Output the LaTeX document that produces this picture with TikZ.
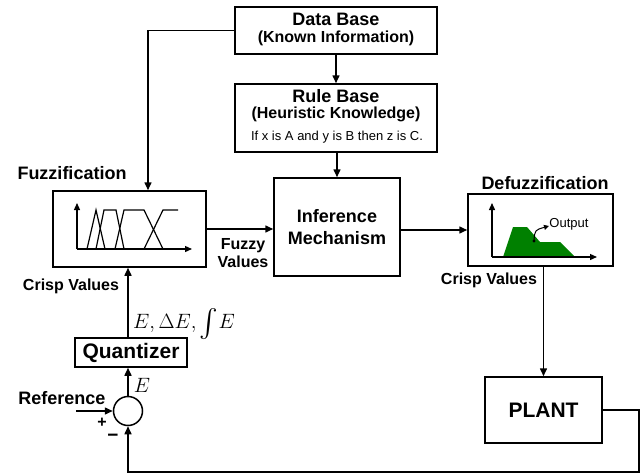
\documentclass[tikz,border=0pt]{standalone}
\usepackage{exscale}
\usepackage{fontspec}
\setmainfont{Liberation Sans}
\usetikzlibrary{arrows.meta,calc}

\definecolor{outgreen}{RGB}{0,128,0}

% font size with a given line pitch
\newcommand{\fsz}[2]{\fontsize{#1}{#2}\selectfont}
% a somewhat enlarged integral sign
\newcommand{\bigint}{\mathop{\raisebox{-2.5pt}{\scalebox{1.35}{$\textstyle\int$}}}\nolimits}

\tikzset{
  blk/.style={draw, line width=1.5pt, rectangle, inner sep=0pt, align=center},
  arr/.style={line width=1.5pt, -{Triangle[length=8pt,width=7pt]}},
  lbl/.style={inner sep=0pt, font=\bfseries\fsz{16}{18}},
  ttl/.style={inner sep=0pt, font=\bfseries\fsz{18}{20}},
  ax/.style={line width=1.3pt, -{Triangle[length=7pt,width=6pt]}},
  mf/.style={line width=1.2pt, line join=miter}
}

\begin{document}
\begin{tikzpicture}[x=1pt,y=-1pt]
\useasboundingbox (0,0) rectangle (641,474);

% ---- blocks ----
\node[blk, minimum width=202pt, minimum height=47pt] (db) at (336,30.5) {};
\node[blk, minimum width=202pt, minimum height=68pt] (rb) at (336,118) {};
\node[blk, minimum width=126pt, minimum height=98pt, font=\bfseries\fsz{18}{22}] (inf) at (337,227)
  {Inference\\Mechanism};
\node[blk, minimum width=153pt, minimum height=76pt] (fz) at (129.5,229) {};
\node[blk, minimum width=145pt, minimum height=72pt] (dfz) at (540.5,230) {};
\node[blk, minimum width=112pt, minimum height=29pt, font=\bfseries\fsz{21}{24}] (qz) at (131,352.5) {Quantizer};
\node[draw, line width=1.5pt, circle, minimum size=29pt, inner sep=0pt] (sum) at (128,411) {};
\node[blk, minimum width=117pt, minimum height=66pt, font=\bfseries\fsz{21}{24}] (plant) at (543.5,410) {PLANT};

% ---- block texts ----
\node[ttl] (tdb1) at (336,19.5) {Data Base};
\node[lbl] (tdb2) at (336,38.5) {(Known Information)};
\node[ttl] (trb1) at (336,96.5) {Rule Base};
\node[lbl] (trb2) at (336,114.5) {(Heuristic Knowledge)};
\node[inner sep=0pt, font=\fsz{13}{15}] (trb3) at (337,137) {If x is A and y is B then z is C.};

\coordinate (ref) at (76,411);
\coordinate (fb) at (639,472);

% ---- labels ----
\node[ttl] (lfz) at (72,173) {Fuzzification};
\node[ttl] (ldfz) at (545,183) {Defuzzification};
\node[lbl] (lcv1) at (71,286) {Crisp Values};
\node[lbl] (lcv2) at (489,280) {Crisp Values};
\node[lbl, align=center] (lfv) at (243,253.5) {Fuzzy\\Values};
\node[inner sep=0pt, anchor=west, font=\fsz{20}{24}] (lmath) at (133,324) {$E, \Delta E, \bigint\! E$};
\node[inner sep=0pt, font=\fsz{20}{24}] (le) at (142,385) {$E$};
\node[ttl] (lref) at (62,398) {Reference};
\node[lbl] (lplus) at (102,423) {+};
\node[inner sep=0pt, font=\bfseries\fsz{19}{20}] (lminus) at (113,438) {−};

% ---- connectors ----
\draw[arr] (db) -- (rb);
\draw[arr] (rb.south -| inf.north) -- (inf.north);
\draw[arr] (db.west) -| ($(fz.north)+(18.5,0)$);
\draw[arr] (fz.east) -- (fz.east -| inf.west);
\draw[arr] (dfz.west -| inf.east) -- (dfz.west);
\draw[arr] (plant.north |- dfz.south) -- (plant.north);
\draw[arr] (sum.north |- qz.north) -- (sum.north |- fz.south);
\draw[arr] (sum.north) -- (sum.north |- qz.south);
\draw[arr] (ref) -- (sum.west);
\draw[arr] (plant.east) -| (fb) -| (sum.south);

% ---- membership functions inside the fuzzifier ----
\draw[ax] (77,249) -- (77,203);
\draw[ax] (77,249) -- (192,249);
\draw[mf] (87,249) -- (96,210) -- (105,249);
\draw[mf] (96,249) -- (104,210) -- (116,210) -- (124,249);
\draw[mf] (115,249) -- (124,210) -- (144,210) -- (163,249);
\draw[mf] (144,249) -- (163,210) -- (178,210);

% ---- output set inside the defuzzifier ----
\fill[outgreen] (503,257) -- (513,227) -- (527,227) -- (540,242) -- (560,242) -- (575,257) -- cycle;
\draw[ax] (492,257) -- (492,203);
\draw[ax] (492,257) -- (597,257);
\fill (534,241) circle (1.6pt);
\draw[line width=1pt, -{Triangle[length=5pt,width=5pt]}] (534,240) .. controls (535,230) .. (549,226);
\node[inner sep=0pt, font=\fsz{13}{15}] (lout) at (569,224) {Output};
\end{tikzpicture}
\end{document}
